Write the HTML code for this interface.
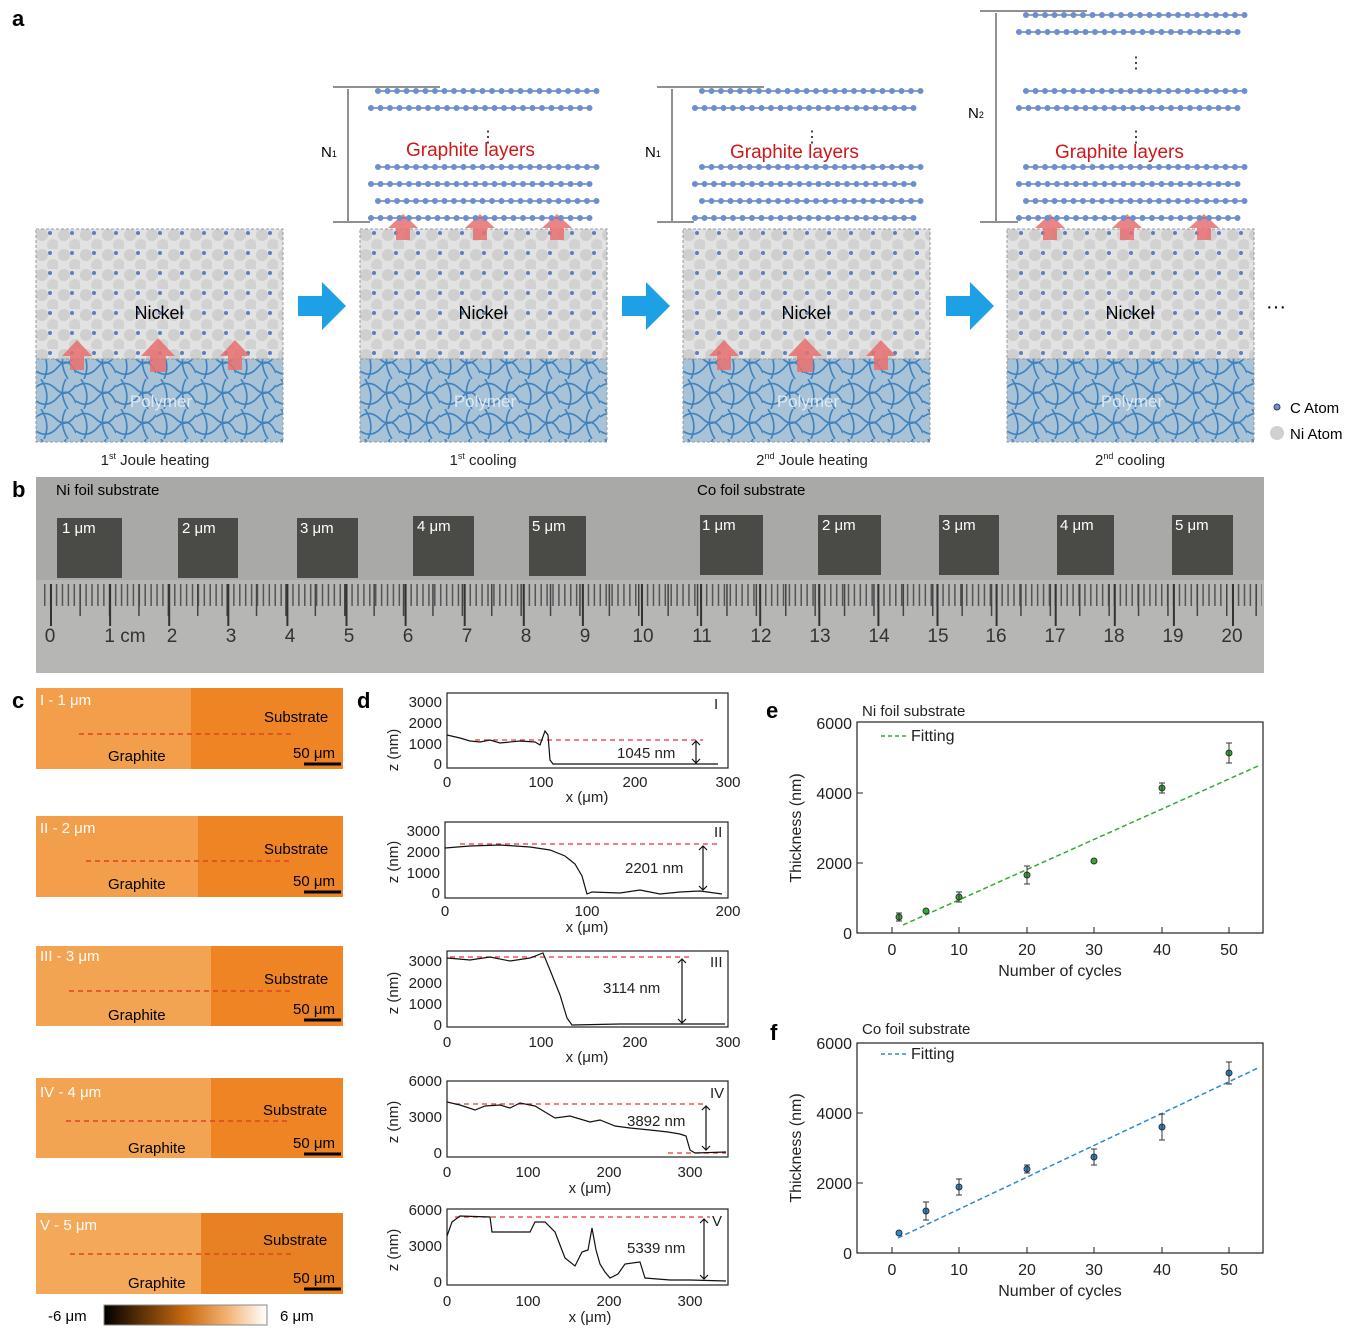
<!DOCTYPE html>
<html><head><meta charset="utf-8"><style>
body{margin:0;background:#fff}
svg{display:block;font-family:"Liberation Sans",sans-serif}
</style></head><body>
<svg width="1356" height="1336" viewBox="0 0 1356 1336" xmlns="http://www.w3.org/2000/svg">
<defs>
<pattern id="ni" width="22" height="20" patternUnits="userSpaceOnUse">
<rect width="22" height="20" fill="#e2e2e2"/>
<circle cx="6" cy="6" r="6" fill="#cfcfcf"/><circle cx="17" cy="16" r="6" fill="#d2d2d2"/>
<circle cx="14" cy="4" r="2" fill="#5b7fc0"/>
</pattern>
<pattern id="poly" width="40" height="30" patternUnits="userSpaceOnUse">
<rect width="40" height="30" fill="#a8c2d8"/>
<path d="M0 8 Q10 0 20 10 T40 6 M0 22 Q12 30 22 18 T40 24 M5 0 Q15 15 8 30 M30 0 Q22 14 32 30" stroke="#3f82bd" stroke-width="1.6" fill="none"/>
</pattern>
<g id="layer"><line x1="0" y1="0" x2="222" y2="0" stroke="#6c7fb0" stroke-width="1.5"/><line x1="3" y1="0" x2="222" y2="0" stroke="#6b8fd0" stroke-width="6" stroke-linecap="round" stroke-dasharray="0 9.5"/></g>
<g id="box">
<rect x="0" y="0" width="247" height="130" fill="url(#ni)" stroke="#999" stroke-dasharray="3 2"/>
<rect x="0" y="130" width="247" height="83" fill="url(#poly)" stroke="#999" stroke-dasharray="3 2"/>
<text x="123" y="90" font-size="18" text-anchor="middle">Nickel</text>
<text x="125" y="178" font-size="17" text-anchor="middle" fill="#dfe8f0">Polymer</text>
</g>
</defs>

<!-- panel a -->
<text x="12" y="26" font-size="22" font-weight="bold">a</text>
<use href="#box" x="36" y="229"/><use href="#box" x="360" y="229"/><use href="#box" x="683" y="229"/><use href="#box" x="1007" y="229"/>
<g fill="#e87070" opacity="0.85">
<path d="M70 370 h14 v-14 h8 l-15-16 -15 16 h8z"/><path d="M150 372 h16 v-16 h9 l-17-18 -17 18 h9z"/><path d="M228 370 h14 v-14 h8 l-15-16 -15 16 h8z"/>
<path d="M717 370 h14 v-14 h8 l-15-16 -15 16 h8z"/><path d="M797 372 h16 v-16 h9 l-17-18 -17 18 h9z"/><path d="M874 370 h14 v-14 h8 l-15-16 -15 16 h8z"/>
<path d="M396 240 h14 v-12 h8 l-15-14 -15 14 h8z"/><path d="M473 240 h14 v-12 h8 l-15-14 -15 14 h8z"/><path d="M550 240 h14 v-12 h8 l-15-14 -15 14 h8z"/>
<path d="M1043 240 h14 v-12 h8 l-15-14 -15 14 h8z"/><path d="M1120 240 h14 v-12 h8 l-15-14 -15 14 h8z"/><path d="M1197 240 h14 v-12 h8 l-15-14 -15 14 h8z"/>
</g>
<g fill="#1ea0e6"><path d="M298 296 h24 v-14 l24 24 -24 24 v-14 h-24z"/><path d="M622 296 h24 v-14 l24 24 -24 24 v-14 h-24z"/><path d="M946 296 h24 v-14 l24 24 -24 24 v-14 h-24z"/></g>
<text x="1266" y="313" font-size="20">···</text>
<g>
<use href="#layer" x="375" y="91"/><use href="#layer" x="368" y="108"/><use href="#layer" x="375" y="167"/><use href="#layer" x="368" y="184"/><use href="#layer" x="375" y="201"/><use href="#layer" x="368" y="218"/>
<use href="#layer" x="699" y="91"/><use href="#layer" x="692" y="108"/><use href="#layer" x="699" y="167"/><use href="#layer" x="692" y="184"/><use href="#layer" x="699" y="201"/><use href="#layer" x="692" y="218"/>
<use href="#layer" x="1023" y="15"/><use href="#layer" x="1016" y="32"/><use href="#layer" x="1023" y="91"/><use href="#layer" x="1016" y="108"/><use href="#layer" x="1023" y="167"/><use href="#layer" x="1016" y="184"/><use href="#layer" x="1023" y="201"/><use href="#layer" x="1016" y="218"/>
</g>
<g fill="#d01818" font-size="19"><text x="406" y="156">Graphite layers</text><text x="730" y="158">Graphite layers</text><text x="1055" y="158">Graphite layers</text></g>
<g fill="#222" font-size="16"><text x="480" y="142">⋮</text><text x="804" y="142">⋮</text><text x="1128" y="142">⋮</text><text x="1128" y="68">⋮</text></g>
<g stroke="#222" stroke-width="1">
<line x1="333" y1="87" x2="440" y2="87"/><line x1="333" y1="222" x2="370" y2="222"/><line x1="348" y1="89" x2="348" y2="221"/>
<line x1="657" y1="87" x2="764" y2="87"/><line x1="657" y1="222" x2="694" y2="222"/><line x1="672" y1="89" x2="672" y2="221"/>
<line x1="980" y1="11" x2="1087" y2="11"/><line x1="980" y1="222" x2="1018" y2="222"/><line x1="996" y1="13" x2="996" y2="221"/>
</g>
<g font-size="15"><text x="321" y="157">N<tspan font-size="9">1</tspan></text><text x="645" y="157">N<tspan font-size="9">1</tspan></text><text x="968" y="118">N<tspan font-size="9">2</tspan></text></g>
<g font-size="15" fill="#222" text-anchor="middle"><text x="155" y="465">1<tspan font-size="9" dy="-6">st</tspan><tspan dy="6"> Joule heating</tspan></text><text x="483" y="465">1<tspan font-size="9" dy="-6">st</tspan><tspan dy="6"> cooling</tspan></text><text x="812" y="465">2<tspan font-size="9" dy="-6">nd</tspan><tspan dy="6"> Joule heating</tspan></text><text x="1130" y="465">2<tspan font-size="9" dy="-6">nd</tspan><tspan dy="6"> cooling</tspan></text></g>
<circle cx="1277" cy="407" r="3" fill="#6b8fd0" stroke="#345"/><text x="1290" y="413" font-size="15">C Atom</text>
<circle cx="1277" cy="433" r="7" fill="#d0d0d0"/><text x="1290" y="439" font-size="15">Ni Atom</text>

<!-- panel b -->
<text x="12" y="497" font-size="22" font-weight="bold">b</text>
<rect x="36" y="477" width="1228" height="196" fill="#a9a9a7"/>
<rect x="36" y="580" width="1228" height="93" fill="#b6b6b4"/>
<text x="56" y="495" font-size="15">Ni foil substrate</text><text x="697" y="495" font-size="15">Co foil substrate</text>
<g fill="#4a4a46">
<rect x="57" y="518" width="65" height="60"/><rect x="178" y="518" width="60" height="60"/><rect x="297" y="518" width="61" height="60"/><rect x="413" y="516" width="61" height="60"/><rect x="529" y="516" width="57" height="60"/>
<rect x="700" y="515" width="63" height="60"/><rect x="818" y="515" width="63" height="60"/><rect x="939" y="515" width="60" height="60"/><rect x="1057" y="515" width="57" height="60"/><rect x="1172" y="515" width="61" height="60"/>
</g>
<g fill="#fff" font-size="15">
<text x="62" y="533">1 μm</text><text x="182" y="533">2 μm</text><text x="300" y="533">3 μm</text><text x="417" y="531">4 μm</text><text x="532" y="531">5 μm</text>
<text x="702" y="530">1 μm</text><text x="822" y="530">2 μm</text><text x="942" y="530">3 μm</text><text x="1060" y="530">4 μm</text><text x="1175" y="530">5 μm</text>
</g>
<line x1="44" y1="595" x2="1262" y2="595" stroke="#555" stroke-width="22" stroke-dasharray="1.5 4.41"/>
<line x1="50" y1="600" x2="1262" y2="600" stroke="#444" stroke-width="32" stroke-dasharray="1.5 27.9"/>
<line x1="50" y1="605" x2="1262" y2="605" stroke="#333" stroke-width="42" stroke-dasharray="2 57.1"/>
<g font-size="19" fill="#333" text-anchor="middle">
<text x="50" y="642">0</text><text x="125" y="642">1 cm</text><text x="172" y="642">2</text><text x="231" y="642">3</text><text x="290" y="642">4</text><text x="349" y="642">5</text><text x="408" y="642">6</text><text x="467" y="642">7</text><text x="526" y="642">8</text><text x="585" y="642">9</text><text x="643" y="642">10</text><text x="702" y="642">11</text><text x="761" y="642">12</text><text x="820" y="642">13</text><text x="879" y="642">14</text><text x="938" y="642">15</text><text x="996" y="642">16</text><text x="1055" y="642">17</text><text x="1114" y="642">18</text><text x="1173" y="642">19</text><text x="1232" y="642">20</text>
</g>

<!-- panel c -->
<text x="12" y="708" font-size="22" font-weight="bold">c</text>
<g font-size="15">
<g transform="translate(36,688)"><rect width="307" height="81" fill="#ee8424"/><rect width="155" height="81" fill="#f29e4a"/><line x1="43" y1="46" x2="255" y2="46" stroke="#d42" stroke-dasharray="5 4" stroke-width="1.5"/><text x="4" y="17" fill="#fff">I - 1 μm</text><text x="228" y="34">Substrate</text><text x="72" y="73">Graphite</text><text x="257" y="70">50 μm</text><line x1="268" y1="76" x2="305" y2="76" stroke="#000" stroke-width="3"/></g>
<g transform="translate(36,816)"><rect width="307" height="81" fill="#ee8424"/><rect width="162" height="81" fill="#f29e4a"/><line x1="50" y1="45" x2="255" y2="45" stroke="#d42" stroke-dasharray="5 4" stroke-width="1.5"/><text x="4" y="17" fill="#fff">II - 2 μm</text><text x="228" y="38">Substrate</text><text x="72" y="73">Graphite</text><text x="257" y="70">50 μm</text><line x1="268" y1="76" x2="305" y2="76" stroke="#000" stroke-width="3"/></g>
<g transform="translate(36,946)"><rect width="307" height="80" fill="#ee8424"/><rect width="175" height="80" fill="#f2a452"/><line x1="33" y1="45" x2="255" y2="45" stroke="#d42" stroke-dasharray="5 4" stroke-width="1.5"/><text x="4" y="15" fill="#fff">III - 3 μm</text><text x="228" y="38">Substrate</text><text x="72" y="74">Graphite</text><text x="257" y="68">50 μm</text><line x1="268" y1="74" x2="305" y2="74" stroke="#000" stroke-width="3"/></g>
<g transform="translate(36,1078)"><rect width="307" height="80" fill="#ee8424"/><rect width="175" height="80" fill="#f2a452"/><line x1="30" y1="43" x2="255" y2="43" stroke="#d42" stroke-dasharray="5 4" stroke-width="1.5"/><text x="4" y="19" fill="#fff">IV - 4 μm</text><text x="227" y="37">Substrate</text><text x="92" y="75">Graphite</text><text x="257" y="70">50 μm</text><line x1="268" y1="76" x2="305" y2="76" stroke="#000" stroke-width="3"/></g>
<g transform="translate(36,1213)"><rect width="307" height="81" fill="#e88024"/><rect width="165" height="81" fill="#f4a85a"/><line x1="34" y1="41" x2="255" y2="41" stroke="#d42" stroke-dasharray="5 4" stroke-width="1.5"/><text x="4" y="17" fill="#fff">V - 5 μm</text><text x="227" y="32">Substrate</text><text x="92" y="75">Graphite</text><text x="257" y="70">50 μm</text><line x1="268" y1="76" x2="305" y2="76" stroke="#000" stroke-width="3"/></g>
</g>
<linearGradient id="cb"><stop offset="0" stop-color="#000"/><stop offset="0.5" stop-color="#c86a10"/><stop offset="0.75" stop-color="#f2b070"/><stop offset="1" stop-color="#fff"/></linearGradient>
<rect x="104" y="1305" width="163" height="20" fill="url(#cb)" stroke="#888"/>
<text x="48" y="1321" font-size="15">-6 μm</text><text x="280" y="1321" font-size="15">6 μm</text>

<!-- panel d -->
<text x="357" y="708" font-size="22" font-weight="bold">d</text>
<g font-size="15" fill="#222" stroke-width="1.2">
<rect x="447" y="693" width="281" height="75" fill="none" stroke="#222"/>
<g text-anchor="end"><text x="442" y="707">3000</text><text x="442" y="728">2000</text><text x="442" y="749">1000</text><text x="442" y="769">0</text></g>
<g text-anchor="middle"><text x="447" y="787">0</text><text x="541" y="787">100</text><text x="635" y="787">200</text><text x="728" y="787">300</text><text x="587" y="802">x (μm)</text></g>
<text x="714" y="709">I</text>
<line x1="475" y1="740" x2="703" y2="740" stroke="#e33" stroke-dasharray="5 4"/>
<polyline points="447,735 460,738 470,741 480,742 490,740 500,743 520,741 535,742 540,745 545,731 548,735 550,760 553,764 718,764" fill="none" stroke="#111"/>
<text x="617" y="758">1045 nm</text><path d="M696 741 v22 M692 745 l4-4 4 4 M692 759 l4 4 4-4" stroke="#111" fill="none"/>
<text transform="translate(398,750) rotate(-90)" text-anchor="middle">z (nm)</text>
<rect x="445" y="822" width="283" height="76" fill="none" stroke="#222"/>
<g text-anchor="end"><text x="440" y="836">3000</text><text x="440" y="857">2000</text><text x="440" y="878">1000</text><text x="440" y="898">0</text></g>
<g text-anchor="middle"><text x="445" y="916">0</text><text x="587" y="916">100</text><text x="728" y="916">200</text><text x="587" y="932">x (μm)</text></g>
<text x="714" y="837">II</text>
<line x1="460" y1="844" x2="718" y2="844" stroke="#e33" stroke-dasharray="5 4"/>
<polyline points="445,848 470,846 500,845 530,847 550,850 565,856 575,864 582,876 587,894 592,892 620,893 640,890 660,894 680,892 700,891 722,894" fill="none" stroke="#111"/>
<text x="625" y="873">2201 nm</text><path d="M703 846 v44 M699 850 l4-4 4 4 M699 886 l4 4 4-4" stroke="#111" fill="none"/>
<text transform="translate(398,862) rotate(-90)" text-anchor="middle">z (nm)</text>
<rect x="447" y="951" width="281" height="76" fill="none" stroke="#222"/>
<g text-anchor="end"><text x="442" y="966">3000</text><text x="442" y="988">2000</text><text x="442" y="1009">1000</text><text x="442" y="1030">0</text></g>
<g text-anchor="middle"><text x="447" y="1047">0</text><text x="541" y="1047">100</text><text x="635" y="1047">200</text><text x="728" y="1047">300</text><text x="587" y="1062">x (μm)</text></g>
<text x="710" y="967">III</text>
<line x1="450" y1="957" x2="693" y2="957" stroke="#e33" stroke-dasharray="5 4"/>
<polyline points="447,958 470,960 490,957 510,961 530,958 543,953 550,970 560,995 567,1018 572,1025 620,1024 680,1024 725,1024" fill="none" stroke="#111"/>
<text x="603" y="993">3114 nm</text><path d="M682 959 v64 M678 963 l4-4 4 4 M678 1019 l4 4 4-4" stroke="#111" fill="none"/>
<text transform="translate(398,993) rotate(-90)" text-anchor="middle">z (nm)</text>
<rect x="447" y="1081" width="281" height="76" fill="none" stroke="#222"/>
<g text-anchor="end"><text x="442" y="1086">6000</text><text x="442" y="1122">3000</text><text x="442" y="1158">0</text></g>
<g text-anchor="middle"><text x="447" y="1177">0</text><text x="528" y="1177">100</text><text x="609" y="1177">200</text><text x="690" y="1177">300</text><text x="590" y="1193">x (μm)</text></g>
<text x="710" y="1098">IV</text>
<line x1="455" y1="1104" x2="705" y2="1104" stroke="#e33" stroke-dasharray="5 4"/>
<line x1="668" y1="1153" x2="726" y2="1153" stroke="#e33" stroke-dasharray="5 4"/>
<polyline points="447,1102 460,1105 475,1110 485,1106 500,1105 510,1108 520,1103 535,1106 545,1112 555,1118 570,1116 590,1122 600,1120 615,1126 630,1128 650,1130 668,1132 680,1134 686,1136 690,1150 695,1153 726,1152" fill="none" stroke="#111"/>
<text x="627" y="1126">3892 nm</text><path d="M706 1106 v44 M702 1110 l4-4 4 4 M702 1146 l4 4 4-4" stroke="#111" fill="none"/>
<text transform="translate(398,1122) rotate(-90)" text-anchor="middle">z (nm)</text>
<rect x="447" y="1209" width="281" height="76" fill="none" stroke="#222"/>
<g text-anchor="end"><text x="442" y="1215">6000</text><text x="442" y="1251">3000</text><text x="442" y="1287">0</text></g>
<g text-anchor="middle"><text x="447" y="1306">0</text><text x="528" y="1306">100</text><text x="609" y="1306">200</text><text x="690" y="1306">300</text><text x="590" y="1322">x (μm)</text></g>
<text x="712" y="1226">V</text>
<line x1="455" y1="1217" x2="710" y2="1217" stroke="#e33" stroke-dasharray="5 4"/>
<polyline points="447,1236 452,1222 460,1216 490,1217 492,1232 530,1232 535,1222 545,1222 555,1232 565,1258 575,1266 582,1252 588,1250 592,1228 596,1250 600,1264 605,1272 610,1278 618,1274 625,1264 640,1262 645,1278 670,1280 690,1280 726,1281" fill="none" stroke="#111"/>
<text x="627" y="1253">5339 nm</text><path d="M704 1219 v60 M700 1223 l4-4 4 4 M700 1275 l4 4 4-4" stroke="#111" fill="none"/>
<text transform="translate(398,1250) rotate(-90)" text-anchor="middle">z (nm)</text>
</g>

<!-- panel e -->
<text x="766" y="718" font-size="22" font-weight="bold">e</text>
<g font-size="16" fill="#222">
<text x="862" y="716" font-size="15">Ni foil substrate</text>
<rect x="857" y="722" width="406" height="211" fill="none" stroke="#222" stroke-width="1.2"/>
<g text-anchor="end"><text x="852" y="729">6000</text><text x="852" y="799">4000</text><text x="852" y="869">2000</text><text x="852" y="939">0</text></g>
<g stroke="#222"><line x1="857" y1="793" x2="863" y2="793"/><line x1="857" y1="863" x2="863" y2="863"/><line x1="892" y1="933" x2="892" y2="927"/><line x1="959" y1="933" x2="959" y2="927"/><line x1="1027" y1="933" x2="1027" y2="927"/><line x1="1094" y1="933" x2="1094" y2="927"/><line x1="1162" y1="933" x2="1162" y2="927"/><line x1="1229" y1="933" x2="1229" y2="927"/></g>
<g text-anchor="middle"><text x="892" y="955">0</text><text x="959" y="955">10</text><text x="1027" y="955">20</text><text x="1094" y="955">30</text><text x="1162" y="955">40</text><text x="1229" y="955">50</text><text x="1060" y="976">Number of cycles</text></g>
<text transform="translate(801,828) rotate(-90)" text-anchor="middle">Thickness (nm)</text>
<line x1="881" y1="736" x2="908" y2="736" stroke="#3a3" stroke-dasharray="4 3" stroke-width="1.5"/><text x="911" y="741">Fitting</text>
<line x1="903" y1="925" x2="1258" y2="766" stroke="#3a3" stroke-dasharray="5 3" stroke-width="1.5"/>
<g fill="#3a3" stroke="#333" stroke-width="1">
<circle cx="899" cy="917" r="3"/><circle cx="926" cy="911" r="3"/><circle cx="959" cy="897" r="3"/><circle cx="1027" cy="875" r="3"/><circle cx="1094" cy="861" r="3"/><circle cx="1162" cy="788" r="3"/><circle cx="1229" cy="753" r="3"/>
</g>
<g stroke="#333" fill="none"><path d="M899 913v8M896 913h6M896 921h6 M959 892v10M956 892h6M956 902h6 M1027 866v18M1024 866h6M1024 884h6 M1162 783v10M1159 783h6M1159 793h6 M1229 743v20M1226 743h6M1226 763h6"/></g>
</g>

<!-- panel f -->
<text x="770" y="1040" font-size="22" font-weight="bold">f</text>
<g font-size="16" fill="#222">
<text x="862" y="1034" font-size="15">Co foil substrate</text>
<rect x="857" y="1043" width="406" height="210" fill="none" stroke="#222" stroke-width="1.2"/>
<g text-anchor="end"><text x="852" y="1049">6000</text><text x="852" y="1119">4000</text><text x="852" y="1189">2000</text><text x="852" y="1259">0</text></g>
<g stroke="#222"><line x1="857" y1="1113" x2="863" y2="1113"/><line x1="857" y1="1183" x2="863" y2="1183"/><line x1="892" y1="1253" x2="892" y2="1247"/><line x1="959" y1="1253" x2="959" y2="1247"/><line x1="1027" y1="1253" x2="1027" y2="1247"/><line x1="1094" y1="1253" x2="1094" y2="1247"/><line x1="1162" y1="1253" x2="1162" y2="1247"/><line x1="1229" y1="1253" x2="1229" y2="1247"/></g>
<g text-anchor="middle"><text x="892" y="1275">0</text><text x="959" y="1275">10</text><text x="1027" y="1275">20</text><text x="1094" y="1275">30</text><text x="1162" y="1275">40</text><text x="1229" y="1275">50</text><text x="1060" y="1296">Number of cycles</text></g>
<text transform="translate(801,1148) rotate(-90)" text-anchor="middle">Thickness (nm)</text>
<line x1="881" y1="1054" x2="908" y2="1054" stroke="#2a8ad0" stroke-dasharray="4 3" stroke-width="1.5"/><text x="911" y="1059">Fitting</text>
<line x1="898" y1="1238" x2="1258" y2="1068" stroke="#2a8ad0" stroke-dasharray="5 3" stroke-width="1.5"/>
<g fill="#2a8ad0" stroke="#333"><circle cx="899" cy="1233" r="3"/><circle cx="926" cy="1211" r="3"/><circle cx="959" cy="1187" r="3"/><circle cx="1027" cy="1169" r="3"/><circle cx="1094" cy="1157" r="3"/><circle cx="1162" cy="1127" r="3"/><circle cx="1229" cy="1073" r="3"/></g>
<g stroke="#333" fill="none"><path d="M926 1202v18M923 1202h6M923 1220h6 M959 1179v16M956 1179h6M956 1195h6 M1027 1165v8M1024 1165h6M1024 1173h6 M1094 1149v16M1091 1149h6M1091 1165h6 M1162 1114v26M1159 1114h6M1159 1140h6 M1229 1062v22M1226 1062h6M1226 1084h6"/></g>
</g>
</svg>
</body></html>
